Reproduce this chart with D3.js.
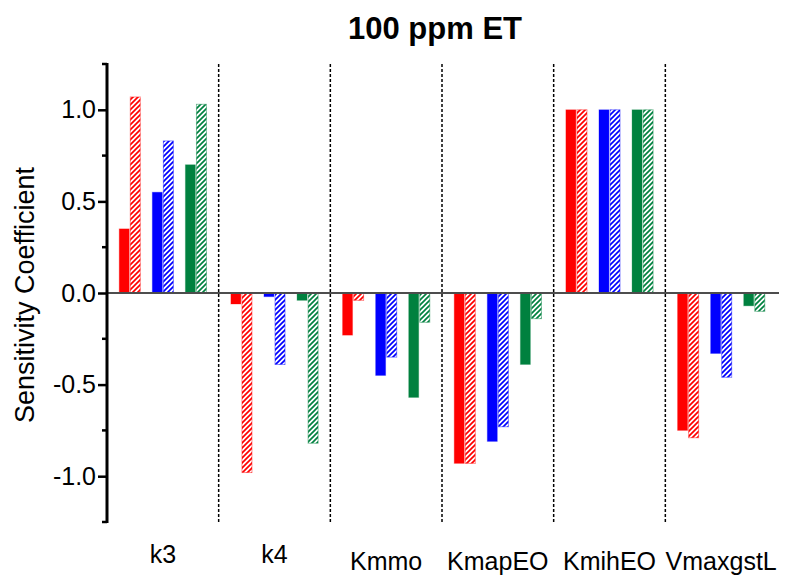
<!DOCTYPE html>
<html>
<head>
<meta charset="utf-8">
<script src="https://cdn.jsdelivr.net/npm/d3@7"></script>
<style>
	body { margin: 0; background: #fff; }
	text { font-family: "Liberation Sans", Arial, sans-serif; fill: #000; }
</style>
</head>
<body>
<div id="chart"></div>
<script>
// parameters along the x axis
var categories = ["k3", "k4", "Kmmo", "KmapEO", "KmihEO", "VmaxgstL"];

// sensitivity coefficients, one array per series (solid / hatched pairs)
var redSolid     = [0.35, -0.06, -0.23, -0.93, 1.00, -0.75];
var redHatched   = [1.07, -0.98, -0.04, -0.93, 1.00, -0.79];
var blueSolid    = [0.55, -0.02, -0.45, -0.81, 1.00, -0.33];
var blueHatched  = [0.83, -0.39, -0.35, -0.73, 1.00, -0.46];
var greenSolid   = [0.70, -0.04, -0.57, -0.39, 1.00, -0.07];
var greenHatched = [1.03, -0.82, -0.16, -0.14, 1.00, -0.10];

var yTicks = [-1.0, -0.5, 0.0, 0.5, 1.0];
var yMinorTicks = [-1.25, -0.75, -0.25, 0.25, 0.75, 1.25];

var series = [
	{ name: "red",   color: "#ff0000", solid: redSolid,   hatched: redHatched },
	{ name: "blue",  color: "#0000ff", solid: blueSolid,  hatched: blueHatched },
	{ name: "green", color: "#00813f", solid: greenSolid, hatched: greenHatched }
];

var svg_width = 793, svg_height = 576;
var plot_left = 107, plot_right = 777, plot_top = 64, plot_bottom = 522;

var svg = d3.select("#chart").append("svg")
	.attr("width", svg_width)
	.attr("height", svg_height);

// hatch patterns ("/" stripes)
var defs = svg.append("defs");
series.forEach(function(s) {
	var p = defs.append("pattern")
		.attr("id", "hatch-" + s.name)
		.attr("patternUnits", "userSpaceOnUse")
		.attr("width", 5)
		.attr("height", 5);
	p.append("rect").attr("width", 5).attr("height", 5).attr("fill", "#fff");
	p.append("path")
		.attr("d", "M-1,1 L1,-1 M0,5 L5,0 M4,6 L6,4")
		.attr("stroke", s.color)
		.attr("stroke-width", 1.7);
});

// scales
var x = d3.scaleBand().domain(categories).range([plot_left, plot_right]).paddingInner(0).paddingOuter(0);
var xPair = d3.scaleBand().domain(series.map(function(s) { return s.name; }))
	.range([0, x.bandwidth()]).paddingInner(0.364).paddingOuter(0.37);
var xBar = d3.scaleBand().domain(["solid", "hatched"]).range([0, xPair.bandwidth()]).paddingInner(0.1);
var y = d3.scaleLinear().domain([-1.25, 1.25]).range([plot_bottom, plot_top]);

// bar records
var bars = [];
categories.forEach(function(c, i) {
	series.forEach(function(s) {
		bars.push({ cat: c, series: s, kind: "solid", value: s.solid[i] });
		bars.push({ cat: c, series: s, kind: "hatched", value: s.hatched[i] });
	});
});

// group separators
svg.append("g").selectAll("line")
	.data(categories.slice(1))
	.enter().append("line")
	.attr("x1", function(d) { return x(d); })
	.attr("x2", function(d) { return x(d); })
	.attr("y1", plot_top)
	.attr("y2", plot_bottom)
	.attr("stroke", "#000")
	.attr("stroke-width", 1.5)
	.attr("stroke-dasharray", "3,2");

// bars
svg.append("g").selectAll("rect")
	.data(bars)
	.enter().append("rect")
	.attr("x", function(d) { return x(d.cat) + xPair(d.series.name) + xBar(d.kind); })
	.attr("width", xBar.bandwidth())
	.attr("y", function(d) { return y(Math.max(0, d.value)); })
	.attr("height", function(d) { return Math.abs(y(d.value) - y(0)); })
	.attr("fill", function(d) { return d.kind == "solid" ? d.series.color : "url(#hatch-" + d.series.name + ")"; })
	.attr("stroke", function(d) { return d.series.color; })
	.attr("stroke-opacity", function(d) { return d.kind == "solid" ? 0.3 : 0.45; })
	.attr("stroke-width", 1);

// zero line
svg.append("line")
	.attr("x1", plot_left).attr("x2", plot_right + 2)
	.attr("y1", y(0)).attr("y2", y(0))
	.attr("stroke", "#4d4d4d")
	.attr("stroke-width", 2);

// y axis
var yAxis = d3.axisLeft(y).tickValues(yTicks).tickSize(9).tickSizeOuter(0).tickPadding(2)
	.tickFormat(d3.format(".1f"));
var gy = svg.append("g")
	.attr("transform", "translate(" + plot_left + ",0)")
	.call(yAxis);
gy.select(".domain").remove();
gy.selectAll(".tick line").attr("stroke", "#000").attr("stroke-width", 2.5);
gy.selectAll(".tick text")
	.style("font-size", "25px")
	.text(function(d) { return d3.format(".1f")(d).replace("−", "-"); });

// minor ticks
gy.append("g").selectAll("line")
	.data(yMinorTicks)
	.enter().append("line")
	.attr("x1", -5).attr("x2", 0)
	.attr("y1", function(d) { return y(d); })
	.attr("y2", function(d) { return y(d); })
	.attr("stroke", "#000")
	.attr("stroke-width", 2.5);

gy.append("line")
	.attr("x1", 0).attr("x2", 0)
	.attr("y1", plot_top - 1).attr("y2", plot_bottom + 1)
	.attr("stroke", "#000")
	.attr("stroke-width", 3);

// axis title
svg.append("text")
	.attr("transform", "translate(34," + ((plot_top + plot_bottom) / 2 + 2) + ") rotate(-90)")
	.attr("text-anchor", "middle")
	.style("font-size", "27px")
	.text("Sensitivity Coefficient");

// category labels
svg.append("g").selectAll("text")
	.data(categories)
	.enter().append("text")
	.attr("x", function(d) { return x(d) + x.bandwidth() / 2; })
	.attr("y", function(d) { return d.charAt(0) == "k" ? 563 : 570; })
	.attr("text-anchor", "middle")
	.style("font-size", "25px")
	.text(function(d) { return d; });

// title
svg.append("text")
	.attr("x", 435)
	.attr("y", 39)
	.attr("text-anchor", "middle")
	.style("font-size", "31px")
	.style("font-weight", "bold")
	.text("100 ppm ET");
</script>
</body>
</html>
